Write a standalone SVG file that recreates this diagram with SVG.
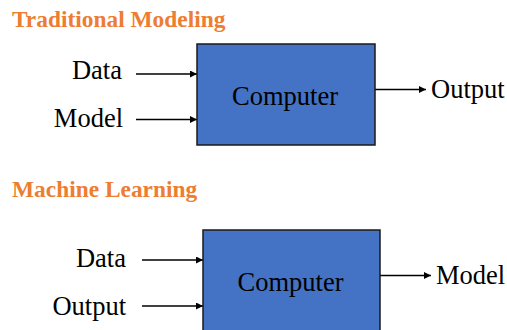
<svg xmlns="http://www.w3.org/2000/svg" width="507" height="330" viewBox="0 0 507 330">
<style>
.title{font-family:'Liberation Serif','Times New Roman','DejaVu Serif',serif;font-weight:bold;font-size:23.4px;fill:#ED7D31}
.lbl{font-family:'Liberation Serif','Times New Roman','DejaVu Serif',serif;font-size:26.5px;fill:#000}
.box{fill:#4472C4;stroke:#1a1a1a;stroke-width:1.5}
.conn{stroke:#000;stroke-width:1.6;fill:none;marker-end:url(#ah)}
</style>
<defs>
<marker id="ah" viewBox="0 0 10 10" refX="10" refY="5" markerWidth="8" markerHeight="7" markerUnits="userSpaceOnUse" orient="auto">
<path d="M0,0 L10,5 L0,10 z" fill="#000"/>
</marker>
</defs>
<rect width="507" height="330" fill="#fff"/>
<g font-family="Liberation Serif, serif">
<text class="title" x="12" y="27">Traditional Modeling</text>
<text class="title" x="12" y="197">Machine Learning</text>
<g id="connectors">
<line class="conn" x1="136" y1="74" x2="197" y2="74"/>
<line class="conn" x1="136" y1="119.5" x2="197" y2="119.5"/>
<line class="conn" x1="375" y1="89.5" x2="426" y2="89.5"/>
<line class="conn" x1="142" y1="260" x2="203" y2="260"/>
<line class="conn" x1="142" y1="306" x2="203" y2="306"/>
<line class="conn" x1="380" y1="275.5" x2="431" y2="275.5"/>
</g>
<g id="in-data-1"><text class="lbl" x="122" y="79" text-anchor="end">Data</text></g>
<g id="in-model-1"><text class="lbl" x="123" y="127" text-anchor="end">Model</text></g>
<g id="computer-1">
<rect class="box" x="197" y="44" width="178" height="101"/>
<text class="lbl" x="285" y="104.5" text-anchor="middle">Computer</text>
</g>
<g id="out-output-1"><text class="lbl" x="431" y="98">Output</text></g>
<g id="in-data-2"><text class="lbl" x="126" y="267" text-anchor="end">Data</text></g>
<g id="in-output-2"><text class="lbl" x="126" y="315" text-anchor="end">Output</text></g>
<g id="computer-2">
<rect class="box" x="203" y="230" width="177" height="110"/>
<text class="lbl" x="290.5" y="290.5" text-anchor="middle">Computer</text>
</g>
<g id="out-model-2"><text class="lbl" x="436" y="284">Model</text></g>
</g>
</svg>
